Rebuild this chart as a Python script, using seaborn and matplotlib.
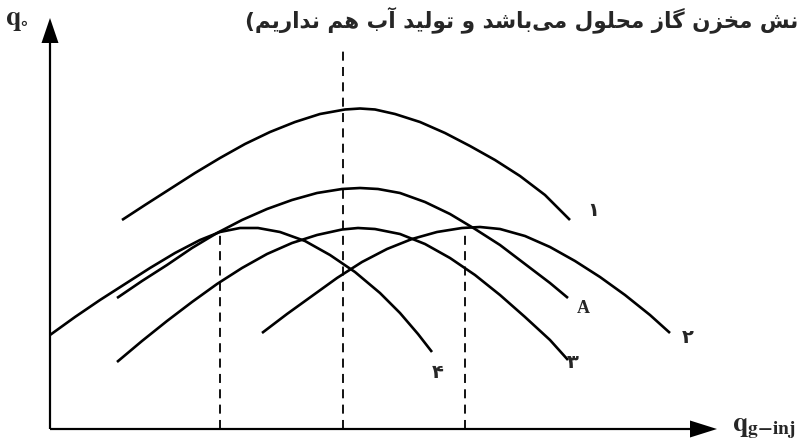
import numpy as np
import pandas as pd
import matplotlib
matplotlib.use("Agg")
import matplotlib.pyplot as plt
import seaborn as sns

# curves: x from the y-axis, y up from the x-axis (pixel units)
curve_1_x = [72, 95, 120, 145, 170, 195, 220, 245, 270, 295, 310, 325, 345, 370, 395, 420, 445, 470, 495, 520]
curve_1_y = [209, 224, 240, 256, 271, 285, 297, 307, 315, 319.5, 320.5, 319.5, 315, 307, 296, 283, 269, 253, 234, 209]

curve_a_x = [67, 92, 117, 142, 167, 192, 217, 242, 267, 292, 310, 328, 350, 375, 400, 425, 450, 475, 500, 518]
curve_a_y = [131, 148, 164, 181, 196, 209, 220, 229, 236, 240, 241, 240, 236, 227, 215, 200, 184, 165, 146, 131]

curve_2_x = [212, 237, 262, 287, 312, 337, 362, 387, 412, 430, 450, 475, 500, 525, 550, 575, 600, 620]
curve_2_y = [96, 115, 133, 151, 167, 180, 190, 197, 201, 202, 200, 193, 182, 168, 152, 134, 114, 96]

curve_3_x = [67, 92, 117, 142, 167, 192, 217, 242, 267, 292, 308, 325, 350, 375, 400, 425, 450, 475, 500, 518]
curve_3_y = [67, 88, 108, 127, 145, 161, 175, 186, 194, 199.5, 201, 200, 195, 185, 171, 154, 134, 112, 89, 69]

curve_4_x = [0, 25, 50, 75, 100, 125, 150, 170, 190, 208, 230, 255, 280, 305, 330, 350, 368, 382]
curve_4_y = [94, 112, 129, 145, 161, 176, 189, 197, 201, 201, 197, 188, 174, 157, 136, 116, 95, 77]

curve_names = ["1", "A", "2", "3", "4"]
curve_labels = ["\u06f1", "A", "\u06f2", "\u06f3", "\u06f4"]

# vertical dashed guides (x position, top)
guide_x = [170, 293, 415]
guide_top = [197, 379, 194]

title = "نش مخزن گاز محلول می\u200cباشد و تولید آب هم نداریم)"
y_label = r"$\mathbf{q}_{\circ}$"
x_label = r"$\mathbf{q}_{\mathbf{g{-}inj}}$"

# --- minimal Persian shaping (matplotlib has no bidi / joining support)
FORMS = {
    "ا": ("\ufe8d", "\ufe8e", None, None),
    "آ": ("\ufe81", "\ufe82", None, None),
    "ب": ("\ufe8f", "\ufe90", "\ufe91", "\ufe92"),
    "ت": ("\ufe95", "\ufe96", "\ufe97", "\ufe98"),
    "ح": ("\ufea1", "\ufea2", "\ufea3", "\ufea4"),
    "خ": ("\ufea5", "\ufea6", "\ufea7", "\ufea8"),
    "د": ("\ufea9", "\ufeaa", None, None),
    "ر": ("\ufead", "\ufeae", None, None),
    "ز": ("\ufeaf", "\ufeb0", None, None),
    "ش": ("\ufeb5", "\ufeb6", "\ufeb7", "\ufeb8"),
    "ل": ("\ufedd", "\ufede", "\ufedf", "\ufee0"),
    "م": ("\ufee1", "\ufee2", "\ufee3", "\ufee4"),
    "ن": ("\ufee5", "\ufee6", "\ufee7", "\ufee8"),
    "ه": ("\ufee9", "\ufeea", "\ufeeb", "\ufeec"),
    "و": ("\ufeed", "\ufeee", None, None),
    "ی": ("\ufbfc", "\ufbfd", "\ufbfe", "\ufbff"),
    "گ": ("\ufb92", "\ufb93", "\ufb94", "\ufb95"),
}
MIRROR = {"(": ")", ")": "("}


def shape_rtl(text):
    out = []
    for i, c in enumerate(text):
        if c == "\u200c":
            continue
        if c not in FORMS:
            out.append(MIRROR.get(c, c))
            continue
        prev = text[i - 1] if i > 0 else ""
        nxt = text[i + 1] if i + 1 < len(text) else ""
        join_prev = prev in FORMS and FORMS[prev][2] is not None
        join_next = FORMS[c][2] is not None and nxt in FORMS
        iso, fin, ini, med = FORMS[c]
        if join_prev and join_next:
            out.append(med)
        elif join_prev:
            out.append(fin)
        elif join_next:
            out.append(ini)
        else:
            out.append(iso)
    return "".join(reversed(out))


frames = []
for name, xs, ys in zip(curve_names,
                        [curve_1_x, curve_a_x, curve_2_x, curve_3_x, curve_4_x],
                        [curve_1_y, curve_a_y, curve_2_y, curve_3_y, curve_4_y]):
    frames.append(pd.DataFrame({"x": xs, "y": ys, "curve": name}))
df = pd.concat(frames, ignore_index=True)

sns.set_style("white")
plt.rcParams["mathtext.fontset"] = "stix"

fig = plt.figure(figsize=(8.01, 4.40), dpi=100)
ax = fig.add_axes([0, 0, 1, 1])
ax.set_xlim(-50, 751)
ax.set_ylim(-11, 429)
ax.axis("off")

sns.lineplot(data=df, x="x", y="y", units="curve", estimator=None, sort=False,
             color="black", lw=1.9, ax=ax, legend=False)
for c in ax.lines:
    c.set_solid_capstyle("butt")
    c.set_solid_joinstyle("round")

for gx, gt in zip(guide_x, guide_top):
    ax.plot([gx, gx], [0, gt], color="black", lw=1.3, linestyle=(0, (5, 3.5)))

# axes with arrow heads
ax.arrow(0, 0, 0, 411, width=2.2, head_width=17, head_length=25,
         length_includes_head=True, fc="black", ec="black", lw=0)
ax.arrow(0, 0, 667, 0, width=2.2, head_width=17, head_length=27,
         length_includes_head=True, fc="black", ec="black", lw=0)

label_pos = {"1": (543, 219), "A": (533, 121), "2": (638, 92), "3": (523, 67), "4": (388, 57)}
for name, lab in zip(curve_names, curve_labels):
    px, py = label_pos[name]
    if lab == "A":
        ax.text(px, py, lab, fontsize=13, fontweight="bold", family="Liberation Serif",
                ha="center", va="center")
    else:
        ax.text(px, py, lab, fontsize=14, fontweight="bold", family="DejaVu Sans",
                ha="center", va="center")

ax.text(-33, 410, y_label, fontsize=20, ha="center", va="center")
ax.text(682, 2, x_label, fontsize=20, ha="left", va="center")

ax.text(748, 409, shape_rtl(title), fontsize=15.5, fontweight="bold",
        family="DejaVu Sans", ha="right", va="center")

fig.savefig("out.png", dpi=100)
